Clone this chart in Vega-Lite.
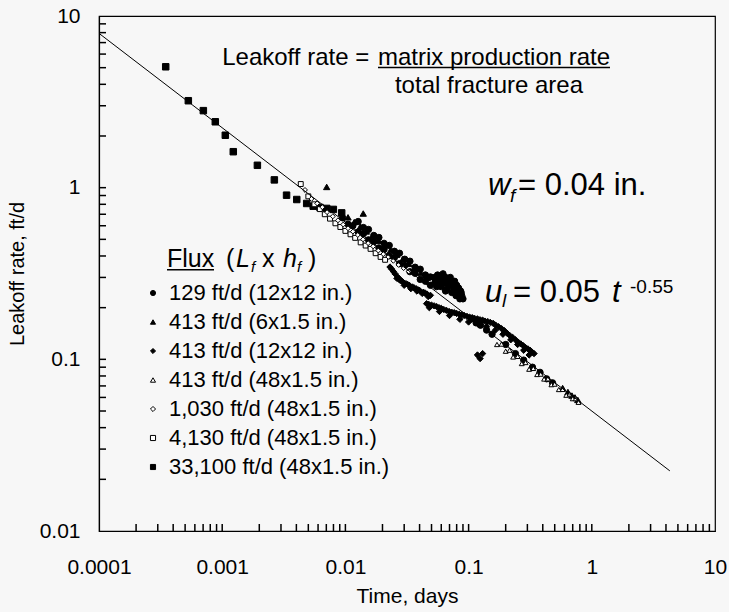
{
  "$schema": "https://vega.github.io/schema/vega-lite/v6.json",
  "width": 616,
  "height": 515,
  "autosize": {"type": "none"},
  "padding": {"left": 99, "top": 16, "right": 14, "bottom": 81},
  "background": "#f7f7f7",
  "config": {
    "font": "Liberation Sans",
    "view": {"stroke": "black", "strokeWidth": 1.2},
    "axis": {"labelFont": "Liberation Sans", "titleFont": "Liberation Sans", "labelColor": "black", "titleColor": "black", "domainColor": "black", "tickColor": "black", "titleFontWeight": "normal", "domainWidth": 1.2}
  },
  "data": {"values": [
    {"s": "33,100 ft/d (48x1.5 in.)", "t": 0.000348, "u": 5.06},
    {"s": "33,100 ft/d (48x1.5 in.)", "t": 0.000531, "u": 3.21},
    {"s": "33,100 ft/d (48x1.5 in.)", "t": 0.000703, "u": 2.81},
    {"s": "33,100 ft/d (48x1.5 in.)", "t": 0.000879, "u": 2.42},
    {"s": "33,100 ft/d (48x1.5 in.)", "t": 0.00106, "u": 2.02},
    {"s": "33,100 ft/d (48x1.5 in.)", "t": 0.00123, "u": 1.62},
    {"s": "33,100 ft/d (48x1.5 in.)", "t": 0.00193, "u": 1.35},
    {"s": "33,100 ft/d (48x1.5 in.)", "t": 0.00265, "u": 1.11},
    {"s": "33,100 ft/d (48x1.5 in.)", "t": 0.00333, "u": 0.904},
    {"s": "33,100 ft/d (48x1.5 in.)", "t": 0.00403, "u": 0.853},
    {"s": "33,100 ft/d (48x1.5 in.)", "t": 0.00485, "u": 0.809},
    {"s": "33,100 ft/d (48x1.5 in.)", "t": 0.00548, "u": 0.78},
    {"s": "33,100 ft/d (48x1.5 in.)", "t": 0.00622, "u": 0.767},
    {"s": "33,100 ft/d (48x1.5 in.)", "t": 0.00705, "u": 0.757},
    {"s": "33,100 ft/d (48x1.5 in.)", "t": 0.00798, "u": 0.747},
    {"s": "33,100 ft/d (48x1.5 in.)", "t": 0.00933, "u": 0.713},

    {"s": "129 ft/d (12x12 in.)", "t": 0.0095, "u": 0.667},
    {"s": "129 ft/d (12x12 in.)", "t": 0.0105, "u": 0.613},
    {"s": "129 ft/d (12x12 in.)", "t": 0.0115, "u": 0.6},
    {"s": "129 ft/d (12x12 in.)", "t": 0.0127, "u": 0.552},
    {"s": "129 ft/d (12x12 in.)", "t": 0.014, "u": 0.539},
    {"s": "129 ft/d (12x12 in.)", "t": 0.0154, "u": 0.497},
    {"s": "129 ft/d (12x12 in.)", "t": 0.017, "u": 0.484},
    {"s": "129 ft/d (12x12 in.)", "t": 0.0187, "u": 0.446},
    {"s": "129 ft/d (12x12 in.)", "t": 0.0206, "u": 0.436},
    {"s": "129 ft/d (12x12 in.)", "t": 0.0227, "u": 0.401},
    {"s": "129 ft/d (12x12 in.)", "t": 0.025, "u": 0.392},
    {"s": "129 ft/d (12x12 in.)", "t": 0.0275, "u": 0.361},
    {"s": "129 ft/d (12x12 in.)", "t": 0.0303, "u": 0.352},
    {"s": "129 ft/d (12x12 in.)", "t": 0.0334, "u": 0.324},
    {"s": "129 ft/d (12x12 in.)", "t": 0.0368, "u": 0.317},
    {"s": "129 ft/d (12x12 in.)", "t": 0.0405, "u": 0.292},
    {"s": "129 ft/d (12x12 in.)", "t": 0.0446, "u": 0.285},
    {"s": "129 ft/d (12x12 in.)", "t": 0.049, "u": 0.27},
    {"s": "129 ft/d (12x12 in.)", "t": 0.0127, "u": 0.635},
    {"s": "129 ft/d (12x12 in.)", "t": 0.014, "u": 0.586},
    {"s": "129 ft/d (12x12 in.)", "t": 0.0154, "u": 0.571},
    {"s": "129 ft/d (12x12 in.)", "t": 0.017, "u": 0.527},
    {"s": "129 ft/d (12x12 in.)", "t": 0.0187, "u": 0.513},
    {"s": "129 ft/d (12x12 in.)", "t": 0.0206, "u": 0.474},
    {"s": "129 ft/d (12x12 in.)", "t": 0.0227, "u": 0.461},
    {"s": "129 ft/d (12x12 in.)", "t": 0.025, "u": 0.426},
    {"s": "129 ft/d (12x12 in.)", "t": 0.0275, "u": 0.415},
    {"s": "129 ft/d (12x12 in.)", "t": 0.0303, "u": 0.383},
    {"s": "129 ft/d (12x12 in.)", "t": 0.0334, "u": 0.373},
    {"s": "129 ft/d (12x12 in.)", "t": 0.0368, "u": 0.344},
    {"s": "129 ft/d (12x12 in.)", "t": 0.0405, "u": 0.335},
    {"s": "129 ft/d (12x12 in.)", "t": 0.0446, "u": 0.31},
    {"s": "129 ft/d (12x12 in.)", "t": 0.049, "u": 0.302},
    {"s": "129 ft/d (12x12 in.)", "t": 0.053, "u": 0.3},
    {"s": "129 ft/d (12x12 in.)", "t": 0.056, "u": 0.31},
    {"s": "129 ft/d (12x12 in.)", "t": 0.059, "u": 0.3},
    {"s": "129 ft/d (12x12 in.)", "t": 0.062, "u": 0.315},
    {"s": "129 ft/d (12x12 in.)", "t": 0.065, "u": 0.3},
    {"s": "129 ft/d (12x12 in.)", "t": 0.068, "u": 0.29},
    {"s": "129 ft/d (12x12 in.)", "t": 0.071, "u": 0.3},
    {"s": "129 ft/d (12x12 in.)", "t": 0.074, "u": 0.28},
    {"s": "129 ft/d (12x12 in.)", "t": 0.077, "u": 0.285},
    {"s": "129 ft/d (12x12 in.)", "t": 0.08, "u": 0.27},
    {"s": "129 ft/d (12x12 in.)", "t": 0.083, "u": 0.26},
    {"s": "129 ft/d (12x12 in.)", "t": 0.086, "u": 0.25},
    {"s": "129 ft/d (12x12 in.)", "t": 0.088, "u": 0.235},
    {"s": "129 ft/d (12x12 in.)", "t": 0.057, "u": 0.28},
    {"s": "129 ft/d (12x12 in.)", "t": 0.063, "u": 0.28},
    {"s": "129 ft/d (12x12 in.)", "t": 0.07, "u": 0.27},
    {"s": "129 ft/d (12x12 in.)", "t": 0.076, "u": 0.26},
    {"s": "129 ft/d (12x12 in.)", "t": 0.082, "u": 0.245},
    {"s": "129 ft/d (12x12 in.)", "t": 0.06, "u": 0.265},
    {"s": "129 ft/d (12x12 in.)", "t": 0.067, "u": 0.258},
    {"s": "129 ft/d (12x12 in.)", "t": 0.054, "u": 0.285},
    {"s": "129 ft/d (12x12 in.)", "t": 0.058, "u": 0.29},
    {"s": "129 ft/d (12x12 in.)", "t": 0.061, "u": 0.29},
    {"s": "129 ft/d (12x12 in.)", "t": 0.064, "u": 0.29},
    {"s": "129 ft/d (12x12 in.)", "t": 0.066, "u": 0.28},
    {"s": "129 ft/d (12x12 in.)", "t": 0.069, "u": 0.28},
    {"s": "129 ft/d (12x12 in.)", "t": 0.072, "u": 0.285},
    {"s": "129 ft/d (12x12 in.)", "t": 0.075, "u": 0.27},
    {"s": "129 ft/d (12x12 in.)", "t": 0.078, "u": 0.27},
    {"s": "129 ft/d (12x12 in.)", "t": 0.081, "u": 0.26},
    {"s": "129 ft/d (12x12 in.)", "t": 0.084, "u": 0.25},
    {"s": "129 ft/d (12x12 in.)", "t": 0.087, "u": 0.245},
    {"s": "129 ft/d (12x12 in.)", "t": 0.09, "u": 0.225},
    {"s": "129 ft/d (12x12 in.)", "t": 0.055, "u": 0.265},
    {"s": "129 ft/d (12x12 in.)", "t": 0.065, "u": 0.25},
    {"s": "129 ft/d (12x12 in.)", "t": 0.073, "u": 0.245},
    {"s": "129 ft/d (12x12 in.)", "t": 0.079, "u": 0.235},
    {"s": "129 ft/d (12x12 in.)", "t": 0.085, "u": 0.225},
    {"s": "129 ft/d (12x12 in.)", "t": 0.105, "u": 0.172},
    {"s": "129 ft/d (12x12 in.)", "t": 0.115, "u": 0.163},
    {"s": "129 ft/d (12x12 in.)", "t": 0.125, "u": 0.158},
    {"s": "129 ft/d (12x12 in.)", "t": 0.14, "u": 0.148},
    {"s": "129 ft/d (12x12 in.)", "t": 0.155, "u": 0.14},
    {"s": "129 ft/d (12x12 in.)", "t": 0.2, "u": 0.122},
    {"s": "129 ft/d (12x12 in.)", "t": 0.24, "u": 0.108},
    {"s": "129 ft/d (12x12 in.)", "t": 0.28, "u": 0.099},
    {"s": "129 ft/d (12x12 in.)", "t": 0.33, "u": 0.09},
    {"s": "129 ft/d (12x12 in.)", "t": 0.38, "u": 0.084},
    {"s": "129 ft/d (12x12 in.)", "t": 0.43, "u": 0.077},
    {"s": "129 ft/d (12x12 in.)", "t": 0.48, "u": 0.073},

    {"s": "413 ft/d (12x12 in.)", "t": 0.023, "u": 0.345},
    {"s": "413 ft/d (12x12 in.)", "t": 0.0238, "u": 0.335},
    {"s": "413 ft/d (12x12 in.)", "t": 0.0245, "u": 0.325},
    {"s": "413 ft/d (12x12 in.)", "t": 0.0253, "u": 0.315},
    {"s": "413 ft/d (12x12 in.)", "t": 0.0262, "u": 0.296},
    {"s": "413 ft/d (12x12 in.)", "t": 0.0268, "u": 0.3},
    {"s": "413 ft/d (12x12 in.)", "t": 0.0275, "u": 0.29},
    {"s": "413 ft/d (12x12 in.)", "t": 0.0283, "u": 0.287},
    {"s": "413 ft/d (12x12 in.)", "t": 0.029, "u": 0.284},
    {"s": "413 ft/d (12x12 in.)", "t": 0.031, "u": 0.276},
    {"s": "413 ft/d (12x12 in.)", "t": 0.032, "u": 0.273},
    {"s": "413 ft/d (12x12 in.)", "t": 0.033, "u": 0.27},
    {"s": "413 ft/d (12x12 in.)", "t": 0.035, "u": 0.264},
    {"s": "413 ft/d (12x12 in.)", "t": 0.036, "u": 0.261},
    {"s": "413 ft/d (12x12 in.)", "t": 0.0375, "u": 0.258},
    {"s": "413 ft/d (12x12 in.)", "t": 0.039, "u": 0.254},
    {"s": "413 ft/d (12x12 in.)", "t": 0.04, "u": 0.252},
    {"s": "413 ft/d (12x12 in.)", "t": 0.043, "u": 0.246},
    {"s": "413 ft/d (12x12 in.)", "t": 0.0445, "u": 0.243},
    {"s": "413 ft/d (12x12 in.)", "t": 0.046, "u": 0.24},
    {"s": "413 ft/d (12x12 in.)", "t": 0.049, "u": 0.236},
    {"s": "413 ft/d (12x12 in.)", "t": 0.03, "u": 0.27},
    {"s": "413 ft/d (12x12 in.)", "t": 0.034, "u": 0.258},
    {"s": "413 ft/d (12x12 in.)", "t": 0.038, "u": 0.25},
    {"s": "413 ft/d (12x12 in.)", "t": 0.042, "u": 0.242},
    {"s": "413 ft/d (12x12 in.)", "t": 0.047, "u": 0.232},
    {"s": "413 ft/d (12x12 in.)", "t": 0.0456, "u": 0.211},
    {"s": "413 ft/d (12x12 in.)", "t": 0.0475, "u": 0.209},
    {"s": "413 ft/d (12x12 in.)", "t": 0.05, "u": 0.207},
    {"s": "413 ft/d (12x12 in.)", "t": 0.0525, "u": 0.205},
    {"s": "413 ft/d (12x12 in.)", "t": 0.055, "u": 0.203},
    {"s": "413 ft/d (12x12 in.)", "t": 0.0575, "u": 0.2},
    {"s": "413 ft/d (12x12 in.)", "t": 0.06, "u": 0.198},
    {"s": "413 ft/d (12x12 in.)", "t": 0.063, "u": 0.195},
    {"s": "413 ft/d (12x12 in.)", "t": 0.066, "u": 0.193},
    {"s": "413 ft/d (12x12 in.)", "t": 0.0695, "u": 0.19},
    {"s": "413 ft/d (12x12 in.)", "t": 0.073, "u": 0.188},
    {"s": "413 ft/d (12x12 in.)", "t": 0.0765, "u": 0.187},
    {"s": "413 ft/d (12x12 in.)", "t": 0.08, "u": 0.185},
    {"s": "413 ft/d (12x12 in.)", "t": 0.084, "u": 0.183},
    {"s": "413 ft/d (12x12 in.)", "t": 0.088, "u": 0.182},
    {"s": "413 ft/d (12x12 in.)", "t": 0.092, "u": 0.18},
    {"s": "413 ft/d (12x12 in.)", "t": 0.097, "u": 0.178},
    {"s": "413 ft/d (12x12 in.)", "t": 0.102, "u": 0.176},
    {"s": "413 ft/d (12x12 in.)", "t": 0.107, "u": 0.175},
    {"s": "413 ft/d (12x12 in.)", "t": 0.112, "u": 0.173},
    {"s": "413 ft/d (12x12 in.)", "t": 0.118, "u": 0.172},
    {"s": "413 ft/d (12x12 in.)", "t": 0.124, "u": 0.17},
    {"s": "413 ft/d (12x12 in.)", "t": 0.13, "u": 0.169},
    {"s": "413 ft/d (12x12 in.)", "t": 0.136, "u": 0.167},
    {"s": "413 ft/d (12x12 in.)", "t": 0.143, "u": 0.166},
    {"s": "413 ft/d (12x12 in.)", "t": 0.15, "u": 0.164},
    {"s": "413 ft/d (12x12 in.)", "t": 0.158, "u": 0.162},
    {"s": "413 ft/d (12x12 in.)", "t": 0.166, "u": 0.158},
    {"s": "413 ft/d (12x12 in.)", "t": 0.175, "u": 0.155},
    {"s": "413 ft/d (12x12 in.)", "t": 0.185, "u": 0.151},
    {"s": "413 ft/d (12x12 in.)", "t": 0.195, "u": 0.147},
    {"s": "413 ft/d (12x12 in.)", "t": 0.205, "u": 0.142},
    {"s": "413 ft/d (12x12 in.)", "t": 0.215, "u": 0.138},
    {"s": "413 ft/d (12x12 in.)", "t": 0.228, "u": 0.134},
    {"s": "413 ft/d (12x12 in.)", "t": 0.24, "u": 0.13},
    {"s": "413 ft/d (12x12 in.)", "t": 0.252, "u": 0.126},
    {"s": "413 ft/d (12x12 in.)", "t": 0.265, "u": 0.123},
    {"s": "413 ft/d (12x12 in.)", "t": 0.278, "u": 0.12},
    {"s": "413 ft/d (12x12 in.)", "t": 0.29, "u": 0.117},
    {"s": "413 ft/d (12x12 in.)", "t": 0.303, "u": 0.115},
    {"s": "413 ft/d (12x12 in.)", "t": 0.315, "u": 0.113},
    {"s": "413 ft/d (12x12 in.)", "t": 0.328, "u": 0.11},
    {"s": "413 ft/d (12x12 in.)", "t": 0.34, "u": 0.108},
    {"s": "413 ft/d (12x12 in.)", "t": 0.048, "u": 0.2},
    {"s": "413 ft/d (12x12 in.)", "t": 0.058, "u": 0.19},
    {"s": "413 ft/d (12x12 in.)", "t": 0.07, "u": 0.18},
    {"s": "413 ft/d (12x12 in.)", "t": 0.085, "u": 0.171},
    {"s": "413 ft/d (12x12 in.)", "t": 0.1, "u": 0.165},
    {"s": "413 ft/d (12x12 in.)", "t": 0.12, "u": 0.16},
    {"s": "413 ft/d (12x12 in.)", "t": 0.14, "u": 0.155},
    {"s": "413 ft/d (12x12 in.)", "t": 0.165, "u": 0.148},
    {"s": "413 ft/d (12x12 in.)", "t": 0.19, "u": 0.14},
    {"s": "413 ft/d (12x12 in.)", "t": 0.22, "u": 0.13},
    {"s": "413 ft/d (12x12 in.)", "t": 0.25, "u": 0.122},
    {"s": "413 ft/d (12x12 in.)", "t": 0.28, "u": 0.113},
    {"s": "413 ft/d (12x12 in.)", "t": 0.31, "u": 0.106},
    {"s": "413 ft/d (12x12 in.)", "t": 0.118, "u": 0.106},
    {"s": "413 ft/d (12x12 in.)", "t": 0.124, "u": 0.101},
    {"s": "413 ft/d (12x12 in.)", "t": 0.13, "u": 0.108},

    {"s": "413 ft/d (6x1.5 in.)", "t": 0.00705, "u": 1.01},
    {"s": "413 ft/d (6x1.5 in.)", "t": 0.01396, "u": 0.707},
    {"s": "413 ft/d (6x1.5 in.)", "t": 0.0105, "u": 0.672},
    {"s": "413 ft/d (6x1.5 in.)", "t": 0.0118, "u": 0.63},
    {"s": "413 ft/d (6x1.5 in.)", "t": 0.0132, "u": 0.592},
    {"s": "413 ft/d (6x1.5 in.)", "t": 0.0148, "u": 0.556},
    {"s": "413 ft/d (6x1.5 in.)", "t": 0.0166, "u": 0.522},
    {"s": "413 ft/d (6x1.5 in.)", "t": 0.0186, "u": 0.49},
    {"s": "413 ft/d (6x1.5 in.)", "t": 0.0208, "u": 0.461},
    {"s": "413 ft/d (6x1.5 in.)", "t": 0.0233, "u": 0.433},
    {"s": "413 ft/d (6x1.5 in.)", "t": 0.0261, "u": 0.407},
    {"s": "413 ft/d (6x1.5 in.)", "t": 0.0292, "u": 0.383},
    {"s": "413 ft/d (6x1.5 in.)", "t": 0.0327, "u": 0.36},
    {"s": "413 ft/d (6x1.5 in.)", "t": 0.0366, "u": 0.338},
    {"s": "413 ft/d (6x1.5 in.)", "t": 0.041, "u": 0.318},
    {"s": "413 ft/d (6x1.5 in.)", "t": 0.046, "u": 0.298},
    {"s": "413 ft/d (6x1.5 in.)", "t": 0.0515, "u": 0.28},
    {"s": "413 ft/d (6x1.5 in.)", "t": 0.58, "u": 0.068},
    {"s": "413 ft/d (6x1.5 in.)", "t": 0.64, "u": 0.0645},
    {"s": "413 ft/d (6x1.5 in.)", "t": 0.69, "u": 0.0615},
    {"s": "413 ft/d (6x1.5 in.)", "t": 0.73, "u": 0.06},
    {"s": "413 ft/d (6x1.5 in.)", "t": 0.77, "u": 0.058},

    {"s": "4,130 ft/d (48x1.5 in.)", "t": 0.00434, "u": 1.05},
    {"s": "4,130 ft/d (48x1.5 in.)", "t": 0.005, "u": 0.89},
    {"s": "4,130 ft/d (48x1.5 in.)", "t": 0.0056, "u": 0.8},
    {"s": "4,130 ft/d (48x1.5 in.)", "t": 0.0062, "u": 0.75},
    {"s": "4,130 ft/d (48x1.5 in.)", "t": 0.0068, "u": 0.7},
    {"s": "4,130 ft/d (48x1.5 in.)", "t": 0.0075, "u": 0.66},
    {"s": "4,130 ft/d (48x1.5 in.)", "t": 0.0083, "u": 0.62},
    {"s": "4,130 ft/d (48x1.5 in.)", "t": 0.0091, "u": 0.59},
    {"s": "4,130 ft/d (48x1.5 in.)", "t": 0.01, "u": 0.56},
    {"s": "4,130 ft/d (48x1.5 in.)", "t": 0.011, "u": 0.535},
    {"s": "4,130 ft/d (48x1.5 in.)", "t": 0.012, "u": 0.51},
    {"s": "4,130 ft/d (48x1.5 in.)", "t": 0.0133, "u": 0.48},
    {"s": "4,130 ft/d (48x1.5 in.)", "t": 0.0146, "u": 0.46},
    {"s": "4,130 ft/d (48x1.5 in.)", "t": 0.016, "u": 0.44},
    {"s": "4,130 ft/d (48x1.5 in.)", "t": 0.0176, "u": 0.415},
    {"s": "4,130 ft/d (48x1.5 in.)", "t": 0.0193, "u": 0.395},
    {"s": "4,130 ft/d (48x1.5 in.)", "t": 0.021, "u": 0.38},

    {"s": "1,030 ft/d (48x1.5 in.)", "t": 0.0047, "u": 0.97},
    {"s": "1,030 ft/d (48x1.5 in.)", "t": 0.0053, "u": 0.86},
    {"s": "1,030 ft/d (48x1.5 in.)", "t": 0.0059, "u": 0.81},
    {"s": "1,030 ft/d (48x1.5 in.)", "t": 0.0065, "u": 0.77},
    {"s": "1,030 ft/d (48x1.5 in.)", "t": 0.0071, "u": 0.72},
    {"s": "1,030 ft/d (48x1.5 in.)", "t": 0.0079, "u": 0.68},
    {"s": "1,030 ft/d (48x1.5 in.)", "t": 0.0087, "u": 0.645},
    {"s": "1,030 ft/d (48x1.5 in.)", "t": 0.0096, "u": 0.61},
    {"s": "1,030 ft/d (48x1.5 in.)", "t": 0.0105, "u": 0.58},
    {"s": "1,030 ft/d (48x1.5 in.)", "t": 0.0115, "u": 0.555},
    {"s": "1,030 ft/d (48x1.5 in.)", "t": 0.0126, "u": 0.53},
    {"s": "1,030 ft/d (48x1.5 in.)", "t": 0.0139, "u": 0.5},
    {"s": "1,030 ft/d (48x1.5 in.)", "t": 0.0153, "u": 0.475},
    {"s": "1,030 ft/d (48x1.5 in.)", "t": 0.0168, "u": 0.455},
    {"s": "1,030 ft/d (48x1.5 in.)", "t": 0.0185, "u": 0.43},
    {"s": "1,030 ft/d (48x1.5 in.)", "t": 0.0203, "u": 0.41},
    {"s": "1,030 ft/d (48x1.5 in.)", "t": 0.0223, "u": 0.395},
    {"s": "1,030 ft/d (48x1.5 in.)", "t": 0.0245, "u": 0.375},
    {"s": "1,030 ft/d (48x1.5 in.)", "t": 0.027, "u": 0.355},
    {"s": "1,030 ft/d (48x1.5 in.)", "t": 0.0297, "u": 0.34},
    {"s": "1,030 ft/d (48x1.5 in.)", "t": 0.0327, "u": 0.325},

    {"s": "413 ft/d (48x1.5 in.)", "t": 0.17, "u": 0.122},
    {"s": "413 ft/d (48x1.5 in.)", "t": 0.185, "u": 0.1227},
    {"s": "413 ft/d (48x1.5 in.)", "t": 0.2, "u": 0.1115},
    {"s": "413 ft/d (48x1.5 in.)", "t": 0.215, "u": 0.113},
    {"s": "413 ft/d (48x1.5 in.)", "t": 0.23, "u": 0.1032},
    {"s": "413 ft/d (48x1.5 in.)", "t": 0.25, "u": 0.104},
    {"s": "413 ft/d (48x1.5 in.)", "t": 0.27, "u": 0.0945},
    {"s": "413 ft/d (48x1.5 in.)", "t": 0.29, "u": 0.0958},
    {"s": "413 ft/d (48x1.5 in.)", "t": 0.31, "u": 0.0876},
    {"s": "413 ft/d (48x1.5 in.)", "t": 0.335, "u": 0.0885},
    {"s": "413 ft/d (48x1.5 in.)", "t": 0.36, "u": 0.0816},
    {"s": "413 ft/d (48x1.5 in.)", "t": 0.385, "u": 0.082},
    {"s": "413 ft/d (48x1.5 in.)", "t": 0.41, "u": 0.0768},
    {"s": "413 ft/d (48x1.5 in.)", "t": 0.44, "u": 0.077},
    {"s": "413 ft/d (48x1.5 in.)", "t": 0.47, "u": 0.0712},
    {"s": "413 ft/d (48x1.5 in.)", "t": 0.5, "u": 0.0717},
    {"s": "413 ft/d (48x1.5 in.)", "t": 0.54, "u": 0.0667},
    {"s": "413 ft/d (48x1.5 in.)", "t": 0.58, "u": 0.0668},
    {"s": "413 ft/d (48x1.5 in.)", "t": 0.62, "u": 0.0618},
    {"s": "413 ft/d (48x1.5 in.)", "t": 0.66, "u": 0.0628},
    {"s": "413 ft/d (48x1.5 in.)", "t": 0.7, "u": 0.059},
    {"s": "413 ft/d (48x1.5 in.)", "t": 0.74, "u": 0.059},
    {"s": "413 ft/d (48x1.5 in.)", "t": 0.78, "u": 0.0562}
  ]},
  "layer": [
    {
      "transform": [{"filter": "datum.s == '33,100 ft/d (48x1.5 in.)'"}],
      "mark": {"type": "point", "strokeWidth": 1, "opacity": 1, "size": 42},
      "encoding": {
        "x": {"field": "t", "type": "quantitative",
          "scale": {"type": "log", "domain": [0.0001, 10], "nice": false},
          "axis": {"orient": "bottom", "values": [0.0001, 0.001, 0.01, 0.1, 1, 10], "format": "~g",
            "ticks": false, "grid": false, "labelPadding": 25, "labelFontSize": 21, "labelFlush": false, "labelOverlap": false,
            "title": "Time, days", "titleFontSize": 21, "titlePadding": 8}},
        "y": {"field": "u", "type": "quantitative",
          "scale": {"type": "log", "domain": [0.01, 10], "nice": false},
          "axis": {"orient": "left", "values": [0.01, 0.1, 1, 10], "format": "~g",
            "ticks": false, "grid": false, "labelPadding": 19, "labelFontSize": 21, "labelFlush": false, "labelOverlap": false,
            "title": "Leakoff rate, ft/d", "titleFontSize": 20, "titlePadding": 12}},
        "shape": {"field": "s", "type": "nominal",
          "scale": {"domain": ["129 ft/d (12x12 in.)", "413 ft/d (6x1.5 in.)", "413 ft/d (12x12 in.)", "413 ft/d (48x1.5 in.)", "1,030 ft/d (48x1.5 in.)", "4,130 ft/d (48x1.5 in.)", "33,100 ft/d (48x1.5 in.)"],
                    "range": ["circle", "triangle-up", "diamond", "triangle-up", "diamond", "square", "square"]},
          "legend": {"orient": "none", "legendX": 43, "legendY": 266, "title": null, "labelFont": "Liberation Sans", "labelFontSize": 22, "labelColor": "black", "symbolSize": 26, "symbolStrokeWidth": 1, "labelOffset": 5, "rowPadding": 7, "padding": 0, "labelLimit": 400}},
        "fill": {"field": "s", "type": "nominal",
          "scale": {"domain": ["129 ft/d (12x12 in.)", "413 ft/d (6x1.5 in.)", "413 ft/d (12x12 in.)", "413 ft/d (48x1.5 in.)", "1,030 ft/d (48x1.5 in.)", "4,130 ft/d (48x1.5 in.)", "33,100 ft/d (48x1.5 in.)"],
                    "range": ["black", "black", "black", "white", "white", "white", "black"]},
          "legend": {"orient": "none", "legendX": 43, "legendY": 266, "title": null, "labelFont": "Liberation Sans", "labelFontSize": 22, "labelColor": "black", "symbolSize": 26, "symbolStrokeWidth": 1, "labelOffset": 5, "rowPadding": 7, "padding": 0, "labelLimit": 400}},
        "stroke": {"field": "s", "type": "nominal",
          "scale": {"domain": ["129 ft/d (12x12 in.)", "413 ft/d (6x1.5 in.)", "413 ft/d (12x12 in.)", "413 ft/d (48x1.5 in.)", "1,030 ft/d (48x1.5 in.)", "4,130 ft/d (48x1.5 in.)", "33,100 ft/d (48x1.5 in.)"],
                    "range": ["black", "black", "black", "black", "black", "black", "black"]},
          "legend": {"orient": "none", "legendX": 43, "legendY": 266, "title": null, "labelFont": "Liberation Sans", "labelFontSize": 22, "labelColor": "black", "symbolSize": 26, "symbolStrokeWidth": 1, "labelOffset": 5, "rowPadding": 7, "padding": 0, "labelLimit": 400}}
      }
    },
    {
      "transform": [{"filter": "datum.s == '129 ft/d (12x12 in.)' || datum.s == '413 ft/d (6x1.5 in.)' || datum.s == '413 ft/d (12x12 in.)'"}],
      "mark": {"type": "point", "strokeWidth": 1, "opacity": 1, "size": 40},
      "encoding": {
        "x": {"field": "t", "type": "quantitative", "scale": {"type": "log", "domain": [0.0001, 10], "nice": false}, "axis": null},
        "y": {"field": "u", "type": "quantitative", "scale": {"type": "log", "domain": [0.01, 10], "nice": false}, "axis": null},
        "shape": {"field": "s", "type": "nominal",
          "scale": {"domain": ["129 ft/d (12x12 in.)", "413 ft/d (6x1.5 in.)", "413 ft/d (12x12 in.)", "413 ft/d (48x1.5 in.)", "1,030 ft/d (48x1.5 in.)", "4,130 ft/d (48x1.5 in.)", "33,100 ft/d (48x1.5 in.)"],
                    "range": ["circle", "triangle-up", "diamond", "triangle-up", "diamond", "square", "square"]},
          "legend": {"orient": "none", "legendX": 43, "legendY": 266, "title": null, "labelFont": "Liberation Sans", "labelFontSize": 22, "labelColor": "black", "symbolSize": 26, "symbolStrokeWidth": 1, "labelOffset": 5, "rowPadding": 7, "padding": 0, "labelLimit": 400}},
        "fill": {"field": "s", "type": "nominal",
          "scale": {"domain": ["129 ft/d (12x12 in.)", "413 ft/d (6x1.5 in.)", "413 ft/d (12x12 in.)", "413 ft/d (48x1.5 in.)", "1,030 ft/d (48x1.5 in.)", "4,130 ft/d (48x1.5 in.)", "33,100 ft/d (48x1.5 in.)"],
                    "range": ["black", "black", "black", "white", "white", "white", "black"]},
          "legend": {"orient": "none", "legendX": 43, "legendY": 266, "title": null, "labelFont": "Liberation Sans", "labelFontSize": 22, "labelColor": "black", "symbolSize": 26, "symbolStrokeWidth": 1, "labelOffset": 5, "rowPadding": 7, "padding": 0, "labelLimit": 400}},
        "stroke": {"field": "s", "type": "nominal",
          "scale": {"domain": ["129 ft/d (12x12 in.)", "413 ft/d (6x1.5 in.)", "413 ft/d (12x12 in.)", "413 ft/d (48x1.5 in.)", "1,030 ft/d (48x1.5 in.)", "4,130 ft/d (48x1.5 in.)", "33,100 ft/d (48x1.5 in.)"],
                    "range": ["black", "black", "black", "black", "black", "black", "black"]},
          "legend": {"orient": "none", "legendX": 43, "legendY": 266, "title": null, "labelFont": "Liberation Sans", "labelFontSize": 22, "labelColor": "black", "symbolSize": 26, "symbolStrokeWidth": 1, "labelOffset": 5, "rowPadding": 7, "padding": 0, "labelLimit": 400}}
      }
    },
    {
      "transform": [{"filter": "datum.s == '413 ft/d (48x1.5 in.)' || datum.s == '1,030 ft/d (48x1.5 in.)' || datum.s == '4,130 ft/d (48x1.5 in.)'"}],
      "mark": {"type": "point", "strokeWidth": 1, "opacity": 1, "size": 24},
      "encoding": {
        "x": {"field": "t", "type": "quantitative", "scale": {"type": "log", "domain": [0.0001, 10], "nice": false}, "axis": null},
        "y": {"field": "u", "type": "quantitative", "scale": {"type": "log", "domain": [0.01, 10], "nice": false}, "axis": null},
        "shape": {"field": "s", "type": "nominal",
          "scale": {"domain": ["129 ft/d (12x12 in.)", "413 ft/d (6x1.5 in.)", "413 ft/d (12x12 in.)", "413 ft/d (48x1.5 in.)", "1,030 ft/d (48x1.5 in.)", "4,130 ft/d (48x1.5 in.)", "33,100 ft/d (48x1.5 in.)"],
                    "range": ["circle", "triangle-up", "diamond", "triangle-up", "diamond", "square", "square"]},
          "legend": {"orient": "none", "legendX": 43, "legendY": 266, "title": null, "labelFont": "Liberation Sans", "labelFontSize": 22, "labelColor": "black", "symbolSize": 26, "symbolStrokeWidth": 1, "labelOffset": 5, "rowPadding": 7, "padding": 0, "labelLimit": 400}},
        "fill": {"field": "s", "type": "nominal",
          "scale": {"domain": ["129 ft/d (12x12 in.)", "413 ft/d (6x1.5 in.)", "413 ft/d (12x12 in.)", "413 ft/d (48x1.5 in.)", "1,030 ft/d (48x1.5 in.)", "4,130 ft/d (48x1.5 in.)", "33,100 ft/d (48x1.5 in.)"],
                    "range": ["black", "black", "black", "white", "white", "white", "black"]},
          "legend": {"orient": "none", "legendX": 43, "legendY": 266, "title": null, "labelFont": "Liberation Sans", "labelFontSize": 22, "labelColor": "black", "symbolSize": 26, "symbolStrokeWidth": 1, "labelOffset": 5, "rowPadding": 7, "padding": 0, "labelLimit": 400}},
        "stroke": {"field": "s", "type": "nominal",
          "scale": {"domain": ["129 ft/d (12x12 in.)", "413 ft/d (6x1.5 in.)", "413 ft/d (12x12 in.)", "413 ft/d (48x1.5 in.)", "1,030 ft/d (48x1.5 in.)", "4,130 ft/d (48x1.5 in.)", "33,100 ft/d (48x1.5 in.)"],
                    "range": ["black", "black", "black", "black", "black", "black", "black"]},
          "legend": {"orient": "none", "legendX": 43, "legendY": 266, "title": null, "labelFont": "Liberation Sans", "labelFontSize": 22, "labelColor": "black", "symbolSize": 26, "symbolStrokeWidth": 1, "labelOffset": 5, "rowPadding": 7, "padding": 0, "labelLimit": 400}}
      }
    },
    {
      "data": {"values": [{"t": 0.0001, "u": 7.924}, {"t": 4.3, "u": 0.0224}]},
      "mark": {"type": "line", "color": "black", "strokeWidth": 1},
      "encoding": {
        "x": {"field": "t", "type": "quantitative", "scale": {"type": "log", "domain": [0.0001, 10], "nice": false}, "axis": null},
        "y": {"field": "u", "type": "quantitative", "scale": {"type": "log", "domain": [0.01, 10], "nice": false}, "axis": null}
      }
    },
    {
      "data": {"values": [{"v": 0.0002},{"v": 0.0003},{"v": 0.0004},{"v": 0.0005},{"v": 0.0006},{"v": 0.0007},{"v": 0.0008},{"v": 0.0009},{"v": 0.001},{"v": 0.002},{"v": 0.003},{"v": 0.004},{"v": 0.005},{"v": 0.006},{"v": 0.007},{"v": 0.008},{"v": 0.009},{"v": 0.01},{"v": 0.02},{"v": 0.03},{"v": 0.04},{"v": 0.05},{"v": 0.06},{"v": 0.07},{"v": 0.08},{"v": 0.09},{"v": 0.1},{"v": 0.2},{"v": 0.3},{"v": 0.4},{"v": 0.5},{"v": 0.6},{"v": 0.7},{"v": 0.8},{"v": 0.9},{"v": 1},{"v": 2},{"v": 3},{"v": 4},{"v": 5},{"v": 6},{"v": 7},{"v": 8},{"v": 9}]},
      "mark": {"type": "tick", "orient": "vertical", "color": "black", "opacity": 1, "thickness": 1.5, "size": 7, "yOffset": -3.5},
      "encoding": {
        "x": {"field": "v", "type": "quantitative", "scale": {"type": "log", "domain": [0.0001, 10], "nice": false}, "axis": null},
        "y": {"datum": 0.01, "type": "quantitative", "scale": {"type": "log", "domain": [0.01, 10], "nice": false}, "axis": null}
      }
    },
    {
      "data": {"values": [{"v": 0.02},{"v": 0.03},{"v": 0.04},{"v": 0.05},{"v": 0.06},{"v": 0.07},{"v": 0.08},{"v": 0.09},{"v": 0.1},{"v": 0.2},{"v": 0.3},{"v": 0.4},{"v": 0.5},{"v": 0.6},{"v": 0.7},{"v": 0.8},{"v": 0.9},{"v": 1},{"v": 2},{"v": 3},{"v": 4},{"v": 5},{"v": 6},{"v": 7},{"v": 8},{"v": 9}]},
      "mark": {"type": "tick", "orient": "horizontal", "color": "black", "opacity": 1, "thickness": 1.5, "size": 7, "xOffset": 3.5},
      "encoding": {
        "y": {"field": "v", "type": "quantitative", "scale": {"type": "log", "domain": [0.01, 10], "nice": false}, "axis": null},
        "x": {"datum": 0.0001, "type": "quantitative", "scale": {"type": "log", "domain": [0.0001, 10], "nice": false}, "axis": null}
      }
    },
    {"data": {"values": [{}]}, "mark": {"type": "text", "text": "Leakoff rate = ", "align": "left", "baseline": "alphabetic", "fontSize": 24, "font": "Liberation Sans", "color": "black"},
     "encoding": {"x": {"datum": 0.001, "type": "quantitative", "axis": null}, "y": {"datum": 5.214, "type": "quantitative", "axis": null}}},
    {"data": {"values": [{}]}, "mark": {"type": "text", "text": "matrix production rate", "align": "left", "baseline": "alphabetic", "fontSize": 24, "font": "Liberation Sans", "color": "black"},
     "encoding": {"x": {"datum": 0.01839, "type": "quantitative", "axis": null}, "y": {"datum": 5.214, "type": "quantitative", "axis": null}}},
    {"data": {"values": [{}]}, "mark": {"type": "rule", "color": "black", "strokeWidth": 1.5},
     "encoding": {"x": {"datum": 0.01839, "type": "quantitative", "axis": null}, "x2": {"datum": 1.405}, "y": {"datum": 5.009, "type": "quantitative", "axis": null}}},
    {"data": {"values": [{}]}, "mark": {"type": "text", "text": "total fracture area", "align": "center", "baseline": "alphabetic", "fontSize": 24, "font": "Liberation Sans", "color": "black"},
     "encoding": {"x": {"datum": 0.1464, "type": "quantitative", "axis": null}, "y": {"datum": 3.542, "type": "quantitative", "axis": null}}},
    {"data": {"values": [{}]}, "mark": {"type": "text", "text": "w", "align": "left", "baseline": "alphabetic", "fontSize": 31, "fontStyle": "italic", "font": "Liberation Sans", "color": "black"},
     "encoding": {"x": {"datum": 0.1437, "type": "quantitative", "axis": null}, "y": {"datum": 0.9043, "type": "quantitative", "axis": null}}},
    {"data": {"values": [{}]}, "mark": {"type": "text", "text": "f", "align": "left", "baseline": "alphabetic", "fontSize": 19, "fontStyle": "italic", "font": "Liberation Sans", "color": "black"},
     "encoding": {"x": {"datum": 0.2168, "type": "quantitative", "axis": null}, "y": {"datum": 0.8232, "type": "quantitative", "axis": null}}},
    {"data": {"values": [{}]}, "mark": {"type": "text", "text": "= 0.04 in.", "align": "left", "baseline": "alphabetic", "fontSize": 31, "font": "Liberation Sans", "color": "black"},
     "encoding": {"x": {"datum": 0.2518, "type": "quantitative", "axis": null}, "y": {"datum": 0.9043, "type": "quantitative", "axis": null}}},
    {"data": {"values": [{}]}, "mark": {"type": "text", "text": "u", "align": "left", "baseline": "alphabetic", "fontSize": 31, "fontStyle": "italic", "font": "Liberation Sans", "color": "black"},
     "encoding": {"x": {"datum": 0.1358, "type": "quantitative", "axis": null}, "y": {"datum": 0.2159, "type": "quantitative", "axis": null}}},
    {"data": {"values": [{}]}, "mark": {"type": "text", "text": "l", "align": "left", "baseline": "alphabetic", "fontSize": 19, "fontStyle": "italic", "font": "Liberation Sans", "color": "black"},
     "encoding": {"x": {"datum": 0.1867, "type": "quantitative", "axis": null}, "y": {"datum": 0.201, "type": "quantitative", "axis": null}}},
    {"data": {"values": [{}]}, "mark": {"type": "text", "text": "= 0.05", "align": "left", "baseline": "alphabetic", "fontSize": 31, "font": "Liberation Sans", "color": "black"},
     "encoding": {"x": {"datum": 0.2293, "type": "quantitative", "axis": null}, "y": {"datum": 0.2159, "type": "quantitative", "axis": null}}},
    {"data": {"values": [{}]}, "mark": {"type": "text", "text": "t", "align": "left", "baseline": "alphabetic", "fontSize": 31, "fontStyle": "italic", "font": "Liberation Sans", "color": "black"},
     "encoding": {"x": {"datum": 1.459, "type": "quantitative", "axis": null}, "y": {"datum": 0.2159, "type": "quantitative", "axis": null}}},
    {"data": {"values": [{}]}, "mark": {"type": "text", "text": "-0.55", "align": "left", "baseline": "alphabetic", "fontSize": 19, "font": "Liberation Sans", "color": "black"},
     "encoding": {"x": {"datum": 2.042, "type": "quantitative", "axis": null}, "y": {"datum": 0.2425, "type": "quantitative", "axis": null}}},
    {"data": {"values": [{}]}, "mark": {"type": "text", "text": "Flux", "align": "left", "baseline": "alphabetic", "fontSize": 25, "font": "Liberation Sans", "color": "black"},
     "encoding": {"x": {"datum": 0.0003565, "type": "quantitative", "axis": null}, "y": {"datum": 0.3463, "type": "quantitative", "axis": null}}},
    {"data": {"values": [{}]}, "mark": {"type": "rule", "color": "black", "strokeWidth": 1.5},
     "encoding": {"x": {"datum": 0.0003565, "type": "quantitative", "axis": null}, "x2": {"datum": 0.000858}, "y": {"datum": 0.3325, "type": "quantitative", "axis": null}}},
    {"data": {"values": [{}]}, "mark": {"type": "text", "text": "(", "align": "left", "baseline": "alphabetic", "fontSize": 25, "font": "Liberation Sans", "color": "black"},
     "encoding": {"x": {"datum": 0.0010735, "type": "quantitative", "axis": null}, "y": {"datum": 0.3463, "type": "quantitative", "axis": null}}},
    {"data": {"values": [{}]}, "mark": {"type": "text", "text": "L", "align": "left", "baseline": "alphabetic", "fontSize": 25, "fontStyle": "italic", "font": "Liberation Sans", "color": "black"},
     "encoding": {"x": {"datum": 0.001294, "type": "quantitative", "axis": null}, "y": {"datum": 0.3463, "type": "quantitative", "axis": null}}},
    {"data": {"values": [{}]}, "mark": {"type": "text", "text": "f", "align": "left", "baseline": "alphabetic", "fontSize": 15, "fontStyle": "italic", "font": "Liberation Sans", "color": "black"},
     "encoding": {"x": {"datum": 0.001713, "type": "quantitative", "axis": null}, "y": {"datum": 0.3216, "type": "quantitative", "axis": null}}},
    {"data": {"values": [{}]}, "mark": {"type": "text", "text": "x", "align": "left", "baseline": "alphabetic", "fontSize": 25, "font": "Liberation Sans", "color": "black"},
     "encoding": {"x": {"datum": 0.002104, "type": "quantitative", "axis": null}, "y": {"datum": 0.3463, "type": "quantitative", "axis": null}}},
    {"data": {"values": [{}]}, "mark": {"type": "text", "text": "h", "align": "left", "baseline": "alphabetic", "fontSize": 25, "fontStyle": "italic", "font": "Liberation Sans", "color": "black"},
     "encoding": {"x": {"datum": 0.003114, "type": "quantitative", "axis": null}, "y": {"datum": 0.3463, "type": "quantitative", "axis": null}}},
    {"data": {"values": [{}]}, "mark": {"type": "text", "text": "f", "align": "left", "baseline": "alphabetic", "fontSize": 15, "fontStyle": "italic", "font": "Liberation Sans", "color": "black"},
     "encoding": {"x": {"datum": 0.004046, "type": "quantitative", "axis": null}, "y": {"datum": 0.3216, "type": "quantitative", "axis": null}}},
    {"data": {"values": [{}]}, "mark": {"type": "text", "text": ")", "align": "left", "baseline": "alphabetic", "fontSize": 25, "font": "Liberation Sans", "color": "black"},
     "encoding": {"x": {"datum": 0.004969, "type": "quantitative", "axis": null}, "y": {"datum": 0.3463, "type": "quantitative", "axis": null}}}
  ],
  "resolve": {"axis": {"x": "independent", "y": "independent"}}
}
